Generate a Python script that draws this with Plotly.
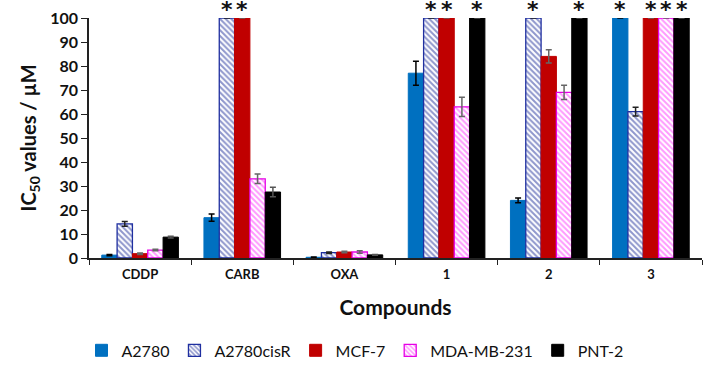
import plotly.graph_objects as go

categories = ["CDDP", "CARB", "OXA", "1", "2", "3"]
series_names = ["A2780", "A2780cisR", "MCF-7", "MDA-MB-231", "PNT-2"]

a2780 = [1.2, 16.8, 0.3, 77, 24, 100]
a2780_err = [0.3, 1.5, 0.1, 5, 1, 0]
a2780cisr = [14.2, 100, 2.2, 100, 100, 61]
a2780cisr_err = [1.0, 0, 0.3, 0, 0, 1.8]
mcf7 = [1.8, 100, 2.5, 100, 84, 100]
mcf7_err = [0.3, 0, 0.3, 0, 2.8, 0]
mdamb231 = [3.3, 33, 2.5, 63, 69, 100]
mdamb231_err = [0.3, 2, 0.5, 4, 3, 0]
pnt2 = [8.7, 27.5, 1.3, 100, 100, 100]
pnt2_err = [0.4, 2, 0.2, 0, 0, 0]

values = [a2780, a2780cisr, mcf7, mdamb231, pnt2]
errors = [a2780_err, a2780cisr_err, mcf7_err, mdamb231_err, pnt2_err]

styles = [
    dict(color="#0070C0", line=dict(color="#0070C0", width=1), pattern=None, err="#000000"),
    dict(color="white", line=dict(color="#1F2FA0", width=1.3),
         pattern=dict(shape="\\", fgcolor="#1F2F9A", bgcolor="white", size=4, solidity=0.5), err="#222222"),
    dict(color="#C00000", line=dict(color="#C00000", width=1), pattern=None, err="#666666"),
    dict(color="white", line=dict(color="#E600E6", width=1.3),
         pattern=dict(shape="\\", fgcolor="#FF33FF", bgcolor="white", size=4, solidity=0.5), err="#666666"),
    dict(color="#000000", line=dict(color="#000000", width=1), pattern=None, err="#555555"),
]

W, H = 706, 366
ML, MR, MT, MB = 89, 4, 18, 108
BARGAP = 0.25

fig = go.Figure()
for name, vals, errs, st in zip(series_names, values, errors, styles):
    marker = dict(color=st["color"], line=st["line"])
    if st["pattern"] is not None:
        marker["pattern"] = st["pattern"]
    fig.add_trace(go.Bar(
        x=categories, y=vals, name=name, marker=marker,
        error_y=dict(type="data", array=errs, visible=True, color=st["err"], thickness=1.5, width=3),
    ))

# asterisks marking values beyond the axis range (>100 µM)
cat_px = (W - ML - MR) / len(categories)
bar_px = cat_px * (1 - BARGAP) / len(series_names)
for i, vals in enumerate(values):
    for j, v in enumerate(vals):
        if v >= 100:
            fig.add_annotation(
                x=j, y=v, xref="x", yref="y", text="<b>*</b>", showarrow=False,
                xshift=(i - (len(series_names) - 1) / 2) * bar_px,
                yanchor="middle", yshift=9,
                font=dict(size=22, family="DejaVu Sans", color="#111111"),
            )

font_family = "Lato, 'Open Sans', sans-serif"
legend_x = (355 - ML) / (W - ML - MR)
fig.update_layout(
    width=W, height=H,
    margin=dict(l=ML, r=MR, t=MT, b=MB, autoexpand=False),
    barmode="group", bargap=BARGAP, bargroupgap=0,
    plot_bgcolor="white", paper_bgcolor="white",
    font=dict(family=font_family, color="#111111"),
    legend=dict(orientation="h", x=legend_x, xanchor="center",
                y=-0.385, yanchor="middle",
                font=dict(size=16, family=font_family), itemwidth=30, traceorder="normal"),
    xaxis=dict(
        showline=True, linecolor="#222222", linewidth=1.5,
        ticks="outside", tickson="boundaries", ticklen=5, tickcolor="#222222",
        tickfont=dict(size=13, family=font_family, weight="bold"),
        ticklabelstandoff=4, tickangle=0,
        title=dict(text="<b>Compounds</b>", font=dict(size=21), standoff=19),
        showgrid=False,
    ),
    yaxis=dict(
        range=[0, 100], dtick=10, showline=True, linecolor="#222222", linewidth=1.5,
        ticks="outside", ticklen=6, tickcolor="#222222", ticklabeloverflow="allow",
        tickfont=dict(size=16, family=font_family, weight="bold"),
        title=dict(text="<b>IC<sub>50</sub> values / µM</b>", font=dict(size=20), standoff=8),
        showgrid=False, zeroline=False,
    ),
)

fig.write_html("out.html", config={"displayModeBar": False},
               post_script="document.body.style.margin='0';")
